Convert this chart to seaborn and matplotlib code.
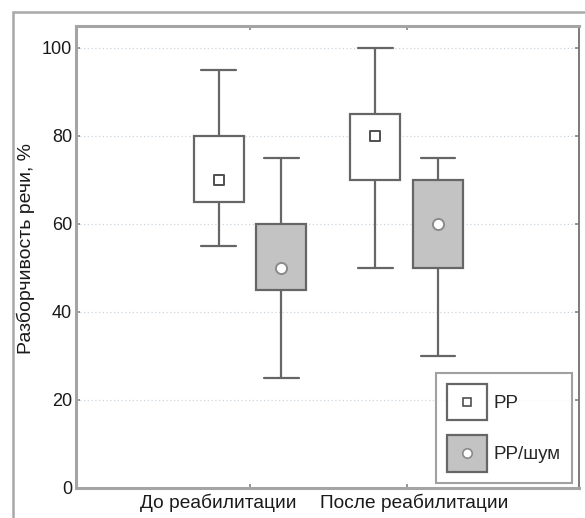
import numpy as np
import pandas as pd
import seaborn as sns
import matplotlib
matplotlib.use("Agg")
import matplotlib.pyplot as plt
import matplotlib.transforms as mtransforms
from matplotlib.patches import Rectangle
from matplotlib.lines import Line2D
from matplotlib.legend_handler import HandlerBase

# Five-number summaries (min, Q1, median, Q3, max) of speech intelligibility, %
periods = ["До реабилитации", "После реабилитации"]
conditions = ["РР", "РР/шум"]
rr_before = [55, 65, 70, 80, 95]
noise_before = [25, 45, 50, 60, 75]
rr_after = [50, 70, 80, 85, 100]
noise_after = [30, 50, 60, 70, 75]
yticks = [0, 20, 40, 60, 80, 100]

groups = {
    (periods[0], conditions[0]): rr_before,
    (periods[0], conditions[1]): noise_before,
    (periods[1], conditions[0]): rr_after,
    (periods[1], conditions[1]): noise_after,
}
rows = [(p, c, v) for (p, c), vals in groups.items() for v in vals]
df = pd.DataFrame(rows, columns=["period", "cond", "value"])
medians = df.groupby(["period", "cond"], sort=False)["value"].median().reset_index()

sns.set_theme(style="white")
plt.rcParams["font.family"] = ["Liberation Sans", "DejaVu Sans"]

edge = "#666666"
fills = {conditions[0]: "#ffffff", conditions[1]: "#c3c3c3"}
marker_style = {conditions[0]: ("s", 6.5, "#505050"), conditions[1]: ("o", 8, "#8a8a8a")}

fig = plt.figure(figsize=(5.85, 5.18), dpi=100)
ax = fig.add_axes([0.130, 0.058, 0.860, 0.892])

sns.boxplot(
    data=df, x="period", y="value", hue="cond",
    order=periods, hue_order=conditions, palette=fills,
    width=0.8, gap=0.2, whis=(0, 100), dodge=True,
    linecolor=edge, linewidth=1.6, showfliers=False,
    medianprops=dict(visible=False), capwidths=0.22,
    legend=False, ax=ax,
)

# Median markers: square for quiet speech, circle for speech in noise
for c in conditions:
    m, s, ec = marker_style[c]
    sns.stripplot(
        data=medians[medians["cond"] == c], x="period", y="value", hue="cond",
        order=periods, hue_order=conditions, dodge=True, jitter=False,
        palette={k: "white" for k in conditions}, marker=m, size=s,
        edgecolor=ec, linewidth=1.4, legend=False, ax=ax, zorder=5,
    )

ax.set_xlim(-1.11, 2.10)
ax.set_ylim(0, 105)
ax.set_yticks(yticks)
ax.set_xlabel("")
ax.set_ylabel("Разборчивость речи, %", fontsize=14, color="#1a1a1a")
ax.yaxis.set_label_coords(-0.082, 0.519)
ax.tick_params(axis="y", labelsize=13, colors="#1a1a1a", pad=3)
ax.tick_params(axis="x", labelsize=13.8, colors="#1a1a1a", pad=4)
ax.tick_params(axis="both", which="both", direction="in", length=3,
               color="#8a8a8a", top=True, right=True, bottom=True, left=True)
ax.grid(axis="y", linestyle=(0, (1, 2)), color="#cdd6de", linewidth=0.9)
ax.set_axisbelow(True)

# Category labels sit slightly apart from their ticks
for lab, dx in zip(ax.get_xticklabels(), [-32, 7]):
    lab.set_transform(lab.get_transform() +
                      mtransforms.ScaledTranslation(dx / 100, 0, fig.dpi_scale_trans))

for side in ["left", "bottom", "top"]:
    ax.spines[side].set_color("#a4a4a4")
    ax.spines[side].set_linewidth(2.2)
ax.spines["right"].set_color("#7a7a7a")
ax.spines["right"].set_linewidth(1.4)


class BoxSwatch(HandlerBase):
    """Legend key: a filled box with the median marker centred in it."""

    def create_artists(self, legend, orig_handle, xdescent, ydescent,
                       width, height, fontsize, trans):
        face, marker, size, mec = orig_handle
        rect = Rectangle((-xdescent, -ydescent), width, height, facecolor=face,
                         edgecolor=edge, linewidth=1.6, transform=trans)
        cx, cy = -xdescent + width / 2, -ydescent + height / 2
        dot = Line2D([cx], [cy], linestyle="none", marker=marker, markersize=size,
                     markerfacecolor="white", markeredgecolor=mec,
                     markeredgewidth=1.2, transform=trans)
        return [rect, dot]


handles = [(fills[c], marker_style[c][0], marker_style[c][1] * 0.85, marker_style[c][2])
           for c in conditions]
leg = ax.legend(
    handles, conditions, handler_map={tuple: BoxSwatch()},
    loc="lower right", bbox_to_anchor=(0.986, 0.011), fontsize=13.5,
    handlelength=2.13, handleheight=2.6, handletextpad=0.37, labelspacing=0.8,
    borderpad=0.6, borderaxespad=0, frameon=True, fancybox=False,
    edgecolor="#8a8a8a",
)
leg.get_frame().set_linewidth(1.5)

# Outer frame of the figure panel
fig.add_artist(Line2D([0.0222, 0.0222], [0.0, 0.977], transform=fig.transFigure,
                      color="#a8a8a8", linewidth=1.8))
fig.add_artist(Line2D([0.0222, 1.0], [0.977, 0.977], transform=fig.transFigure,
                      color="#a8a8a8", linewidth=1.8))

fig.savefig("out.png", dpi=100)
